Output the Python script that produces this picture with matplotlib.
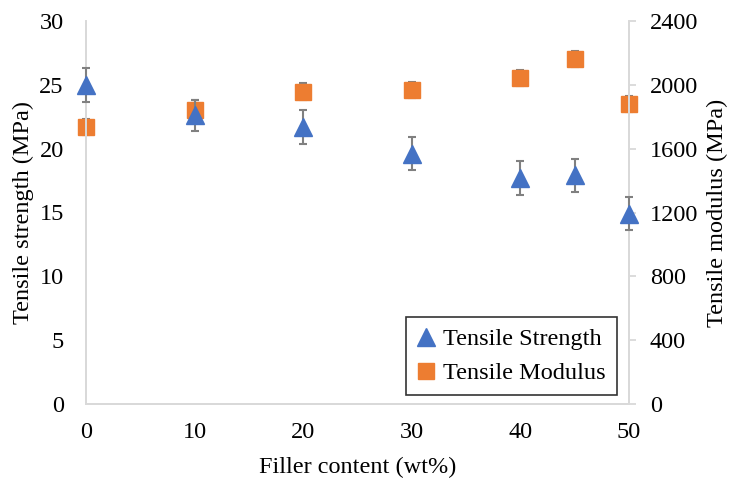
import matplotlib
matplotlib.use("Agg")
import matplotlib.pyplot as plt
from matplotlib.lines import Line2D

filler = [0, 10, 20, 30, 40, 45, 50]
strength = [25.0, 22.6, 21.7, 19.6, 17.7, 17.9, 14.9]
strength_err = [1.35, 1.2, 1.3, 1.3, 1.3, 1.3, 1.3]
modulus = [1735, 1843, 1958, 1968, 2043, 2161, 1881]
modulus_err = [52, 60, 52, 52, 52, 52, 52]

x_ticks = [0, 10, 20, 30, 40, 50]
y1_ticks = [0, 5, 10, 15, 20, 25, 30]
y2_ticks = [0, 400, 800, 1200, 1600, 2000, 2400]

plt.rcParams['font.family'] = ['Liberation Serif', 'DejaVu Serif']
fs = 17.5
blue = '#4472C4'
orange = '#ED7D31'
spine_c = '#D9D9D9'
err_c = '#808080'

fig = plt.figure(figsize=(7.31, 4.79), dpi=100)
ax = fig.add_axes([86/731, 1-404/479, (629-86)/731, (404-21)/479])
ax2 = ax.twinx()

ax.set_xlim(0, 50)
ax.set_ylim(0, 30)
ax2.set_ylim(0, 2400)

ax2.errorbar(filler, modulus, yerr=modulus_err, fmt='s', color=orange, markersize=11,
             ecolor=err_c, elinewidth=1.5, capsize=3, capthick=1.5, zorder=2, clip_on=False)
ax.set_zorder(ax2.get_zorder() + 1)
ax.patch.set_visible(False)
ax.errorbar(filler, strength, yerr=strength_err, fmt='^', color=blue, markersize=13,
            ecolor=err_c, elinewidth=1.5, capsize=3, capthick=1.5, zorder=3, clip_on=False)

for a in (ax, ax2):
    a.spines['top'].set_visible(False)
    for s in ('left', 'right', 'bottom'):
        a.spines[s].set_color(spine_c)
        a.spines[s].set_linewidth(1.3)

ax.set_xticks(x_ticks)
ax.set_yticks(y1_ticks)
ax2.set_yticks(y2_ticks)
ax.tick_params(axis='x', length=0, labelsize=fs, pad=13, colors='black')
ax.tick_params(axis='y', length=0, labelsize=fs, pad=16, colors='black')
ax2.tick_params(axis='y', length=5, width=1.3, color=spine_c, labelsize=fs, pad=10, labelcolor='black')

ax.set_xlabel('Filler content (wt%)', fontsize=fs, labelpad=10)
ax.set_ylabel('Tensile strength (MPa)', fontsize=fs, labelpad=4)
ax2.set_ylabel('Tensile modulus (MPa)', fontsize=fs, labelpad=6)

handles = [Line2D([], [], marker='^', color=blue, linestyle='none', markersize=13),
           Line2D([], [], marker='s', color=orange, linestyle='none', markersize=11)]
leg = ax.legend(handles, ['Tensile Strength', 'Tensile Modulus'], loc='lower right',
                bbox_to_anchor=(0.978, 0.023), fontsize=fs, frameon=True, fancybox=False,
                edgecolor='black', handlelength=0.8, handletextpad=0.3, borderpad=0.45,
                labelspacing=0.5, borderaxespad=0)
leg.get_frame().set_linewidth(1.2)

fig.savefig('out.png', dpi=100)
